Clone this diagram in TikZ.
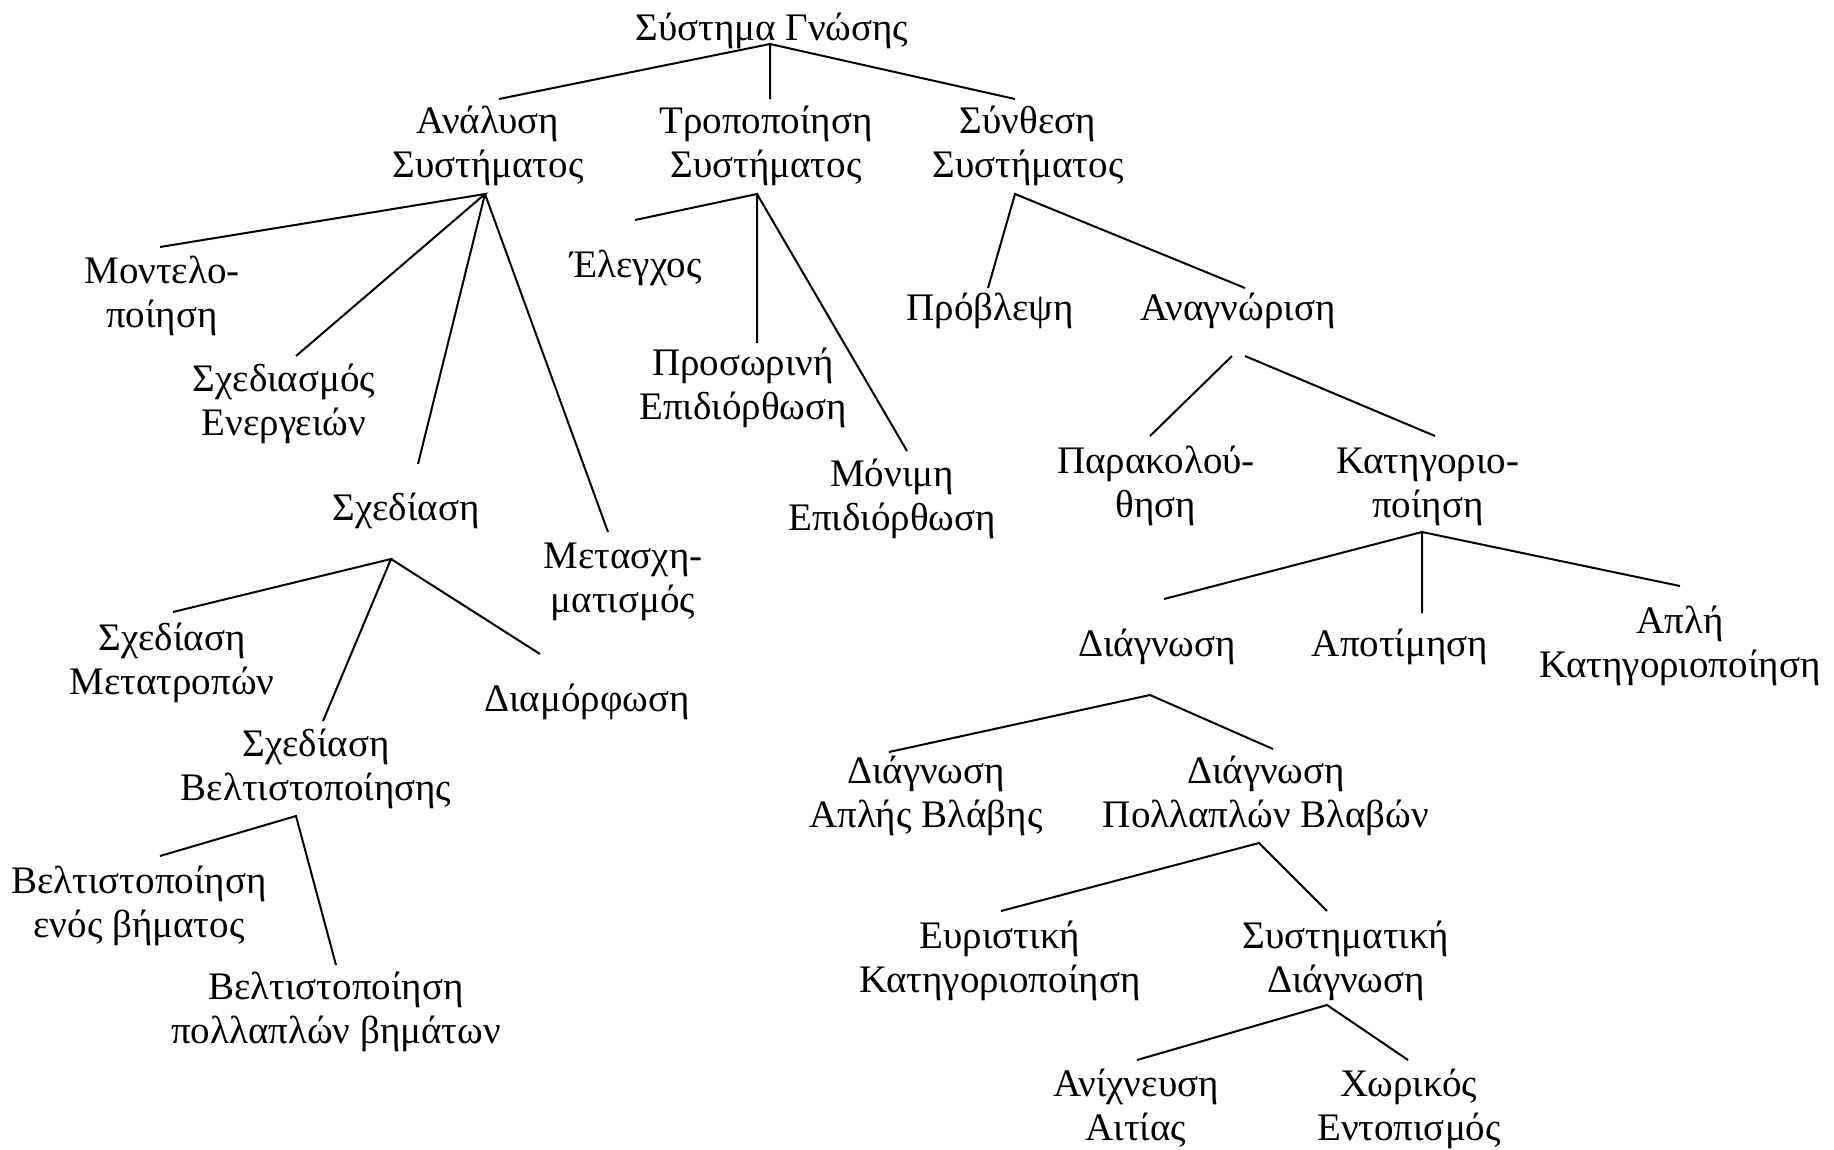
\documentclass[tikz,border=0pt]{standalone}
\usepackage{fontspec}
\setmainfont{Liberation Serif}
\begin{document}
\begin{tikzpicture}[x=1pt,y=-1pt,
  lbl/.style={font=\fontsize{39}{44.5}\selectfont, align=center, inner sep=0pt, anchor=base},
  % a two-line label sits on the baseline of its last line
  twoline/.style={lbl, yshift=-44.5pt},
  edge/.style={line width=2pt}]
\useasboundingbox[fill=white] (0,0) rectangle (1834,1149);

% labels, positioned by the baseline of their first line
\node[lbl]     (root) at (772,40)  {Σύστημα Γνώσης};
\node[twoline] (ana)  at (488,133) {Ανάλυση\\Συστήματος};
\node[twoline] (tro)  at (766,133) {Τροποποίηση\\Συστήματος};
\node[twoline] (syn)  at (1028,133) {Σύνθεση\\Συστήματος};
\node[twoline] (mod)  at (162,283) {Μοντελο-\\ποίηση};
\node[twoline] (sxe)  at (284,391) {Σχεδιασμός\\Ενεργειών};
\node[lbl]     (sxd)  at (406,520) {Σχεδίαση};
\node[twoline] (met)  at (623,568) {Μετασχη-\\ματισμός};
\node[twoline] (smt)  at (172,650) {Σχεδίαση\\Μετατροπών};
\node[lbl]     (dia)  at (587,711) {Διαμόρφωση};
\node[twoline] (sbe)  at (316,756) {Σχεδίαση\\Βελτιστοποίησης};
\node[twoline] (ben)  at (139,893) {Βελτιστοποίηση\\ενός βήματος};
\node[twoline] (bpo)  at (336,999) {Βελτιστοποίηση\\πολλαπλών βημάτων};
\node[lbl]     (ele)  at (636,277) {Έλεγχος};
\node[twoline] (pro)  at (743,375) {Προσωρινή\\Επιδιόρθωση};
\node[twoline] (mon)  at (892,486) {Μόνιμη\\Επιδιόρθωση};
\node[lbl]     (prb)  at (990,320) {Πρόβλεψη};
\node[lbl]     (ang)  at (1238,320) {Αναγνώριση};
\node[twoline] (par)  at (1156,473) {Παρακολού-\\θηση};
\node[twoline] (kat)  at (1428,473) {Κατηγοριο-\\ποίηση};
\node[lbl]     (dg)   at (1157,656) {Διάγνωση};
\node[lbl]     (apo)  at (1400,656) {Αποτίμηση};
\node[twoline] (apl)  at (1680,633) {Απλή\\Κατηγοριοποίηση};
\node[twoline] (dab)  at (926,783) {Διάγνωση\\Απλής Βλάβης};
\node[twoline] (dpb)  at (1266,783) {Διάγνωση\\Πολλαπλών Βλαβών};
\node[twoline] (eur)  at (1000,948) {Ευριστική\\Κατηγοριοποίηση};
\node[twoline] (ssd)  at (1346,948) {Συστηματική\\Διάγνωση};
\node[twoline] (ani)  at (1136,1096) {Ανίχνευση\\Αιτίας};
\node[twoline] (xor)  at (1409,1096) {Χωρικός\\Εντοπισμός};

% branching points below each parent
\coordinate (root-b) at (770,44);
\coordinate (ana-b)  at (485,194);
\coordinate (tro-b)  at (757,194);
\coordinate (syn-b)  at (1015,194);
\coordinate (sxd-b)  at (391,559);
\coordinate (sbe-b)  at (296,816);
\coordinate (ang-bl) at (1232,356);
\coordinate (ang-br) at (1245,356);
\coordinate (kat-b)  at (1422,532);
\coordinate (dg-b)   at (1150,695);
\coordinate (dpb-b)  at (1259,843);
\coordinate (ssd-b)  at (1327,1005);

% end points above each child
\coordinate (ana-t) at (499,99);
\coordinate (tro-t) at (770,99);
\coordinate (syn-t) at (1015,99);
\coordinate (mod-t) at (160,247);
\coordinate (sxe-t) at (296,356);
\coordinate (sxd-t) at (418,464);
\coordinate (met-t) at (608,532);
\coordinate (ele-t) at (635,220);
\coordinate (pro-t) at (757,343);
\coordinate (mon-t) at (907,451);
\coordinate (prb-t) at (988,288);
\coordinate (ang-t) at (1245,288);
\coordinate (par-t) at (1150,436);
\coordinate (kat-t) at (1435,436);
\coordinate (dg-t)  at (1164,599);
\coordinate (apo-t) at (1422,613);
\coordinate (apl-t) at (1680,586);
\coordinate (dab-t) at (889,752);
\coordinate (dpb-t) at (1273,749);
\coordinate (smt-t) at (173,612);
\coordinate (sbe-t) at (323,721);
\coordinate (dia-t) at (540,654);
\coordinate (ben-t) at (160,856);
\coordinate (bpo-t) at (336,965);
\coordinate (eur-t) at (1001,911);
\coordinate (ssd-t) at (1327,911);
\coordinate (ani-t) at (1137,1060);
\coordinate (xor-t) at (1408,1060);

% tree edges
\draw[edge] (ana-t) -- (root-b) -- (syn-t) (root-b) -- (tro-t);
\draw[edge] (mod-t) -- (ana-b) -- (sxe-t) (ana-b) -- (sxd-t) (ana-b) -- (met-t);
\draw[edge] (ele-t) -- (tro-b) -- (pro-t) (tro-b) -- (mon-t);
\draw[edge] (prb-t) -- (syn-b) -- (ang-t);
\draw[edge] (ang-bl) -- (par-t) (ang-br) -- (kat-t);
\draw[edge] (dg-t) -- (kat-b) -- (apo-t) (kat-b) -- (apl-t);
\draw[edge] (dab-t) -- (dg-b) -- (dpb-t);
\draw[edge] (eur-t) -- (dpb-b) -- (ssd-t);
\draw[edge] (ani-t) -- (ssd-b) -- (xor-t);
\draw[edge] (smt-t) -- (sxd-b) -- (sbe-t) (sxd-b) -- (dia-t);
\draw[edge] (ben-t) -- (sbe-b) -- (bpo-t);
\end{tikzpicture}
\end{document}
